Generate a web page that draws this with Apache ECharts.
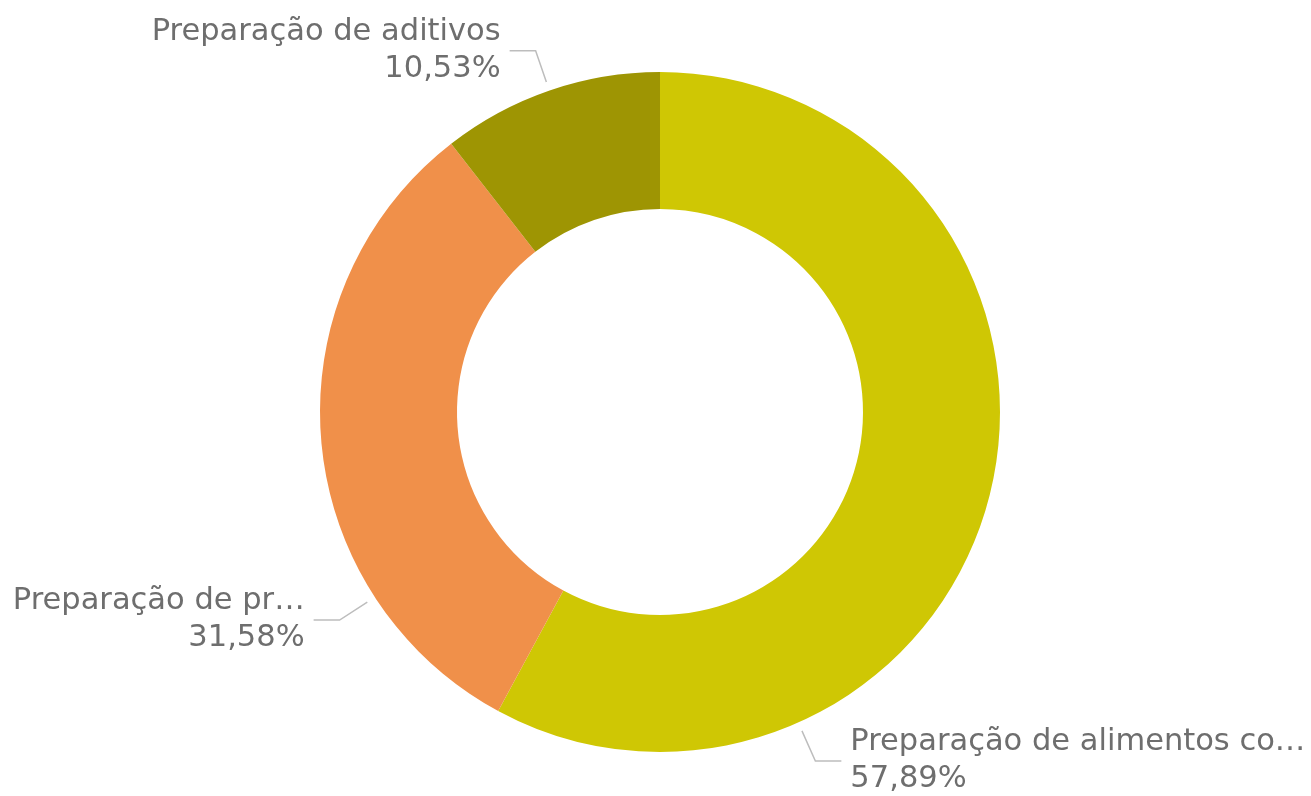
<!DOCTYPE html>
<html>
<head>
<meta charset="utf-8">
<script src="https://cdn.jsdelivr.net/npm/echarts@6/dist/echarts.min.js"></script>
<style>
  html, body { margin: 0; padding: 0; background: #fff; }
  #chart { width: 1311px; height: 796px; }
</style>
</head>
<body>
<div id="chart"></div>
<script>
// categories as shown in the picture (long names are cut off there)
const categories = ['Preparação de alimentos co…', 'Preparação de pr…', 'Preparação de aditivos'];
const values = [11, 6, 2];
const colors = ['#cfc704', '#f0904a', '#9e9503'];

// where each label line leaves the ring, degrees clockwise from 12 o'clock
const labelAngles = [156, 237, 341];

const CX = 660, CY = 412, R_OUT = 340, R_IN = 203;

const chart = echarts.init(document.getElementById('chart'));

function pt(angle, dist) {
  const a = angle * Math.PI / 180;
  return [CX + dist * Math.sin(a), CY - dist * Math.cos(a)];
}

chart.setOption({
  animation: false,
  series: [{
    type: 'pie',
    center: [CX, CY],
    radius: [R_IN, R_OUT],
    startAngle: 90,
    clockwise: true,
    avoidLabelOverlap: false,
    data: categories.map((name, i) => ({
      name: name,
      value: values[i],
      itemStyle: { color: colors[i] },
    })),
    label: {
      show: true,
      position: 'outside',
      formatter: p => p.name + '\n' + p.percent.toFixed(2).replace('.', ',') + '%',
      color: '#6e6e6e',
      fontFamily: 'DejaVu Sans',
      fontSize: 30.5,
      lineHeight: 37,
    },
    labelLine: {
      show: true,
      lineStyle: { color: '#bdbdbd', width: 1.5 },
    },
    labelLayout: function (params) {
      const ang = labelAngles[params.dataIndex];
      const p0 = pt(ang, R_OUT + 9);
      const p1 = pt(ang, R_OUT + 42);
      const right = ang < 180;
      const p2 = [p1[0] + (right ? 26 : -26), p1[1]];
      return {
        x: p2[0] + (right ? 9 : -9),
        y: p2[1],
        align: right ? 'left' : 'right',
        verticalAlign: 'middle',
        labelLinePoints: [p0, p1, p2],
      };
    },
  }],
});
</script>
</body>
</html>
